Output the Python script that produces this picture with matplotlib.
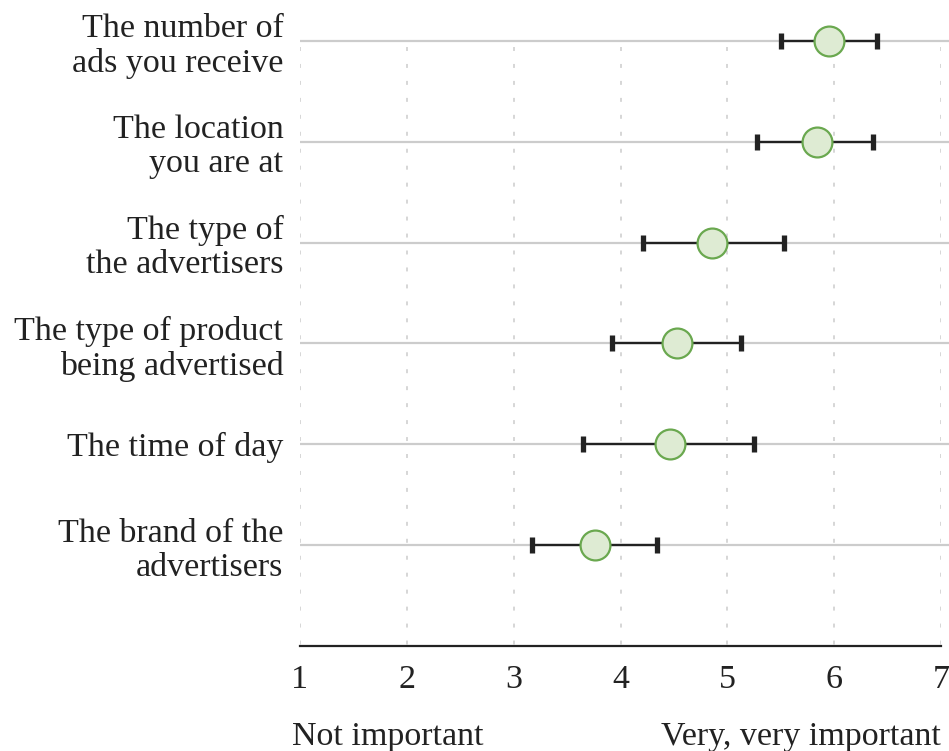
import matplotlib.pyplot as plt

# Datos (media e intervalo)
etiquetas = ['The number of\nads you receive',
             'The location\nyou are at',
             'The type of\nthe advertisers',
             'The type of product\nbeing advertised',
             'The time of day',
             'The brand of the\nadvertisers']
medias = [5.95, 5.84, 4.86, 4.53, 4.46, 3.76]
inferior = [5.50, 5.28, 4.21, 3.92, 3.65, 3.17]
superior = [6.40, 6.36, 5.53, 5.13, 5.25, 4.34]
ticks_x = [1, 2, 3, 4, 5, 6, 7]

plt.rcParams['font.family'] = ['Liberation Serif', 'DejaVu Serif']

fig = plt.figure(figsize=(9.49, 7.51), dpi=100)
ax = fig.add_axes([300 / 949, (751 - 646) / 751, 641 / 949, 646 / 751])

n = len(etiquetas)
pos = list(range(n))

# Lineas guia verticales punteadas
ax.vlines(ticks_x, 0.06, n, colors='#cccccc', linewidth=1.1,
          linestyles=(0, (2.6, 8.5)), zorder=1)
# Lineas horizontales grises por categoria
ax.hlines(pos, 1.0, 7.09, colors='#cccccc', linewidth=1.6, zorder=1, clip_on=False)

err_lo = [m - l for m, l in zip(medias, inferior)]
err_hi = [u - m for m, u in zip(medias, superior)]
ax.errorbar(medias, pos, xerr=[err_lo, err_hi], fmt='none', ecolor='#222222',
            elinewidth=1.7, capsize=5.5, capthick=3.8, zorder=2)
ax.plot(medias, pos, 'o', markersize=21.5, markerfacecolor='#deebd3',
        markeredgecolor='#6aa84f', markeredgewidth=1.6, zorder=3)

ax.set_xlim(1, 7)
ax.set_ylim(n, -0.406)
ax.set_xticks(ticks_x)
ax.set_xticklabels([str(t) for t in ticks_x], fontsize=24.5, color='#222222')
ax.tick_params(axis='x', length=0, pad=13)
ax.set_yticks(pos)
ax.set_yticklabels(etiquetas, fontsize=24.5, color='#222222', linespacing=1.15)
ax.tick_params(axis='y', length=0, pad=12)

for lado in ['top', 'right', 'left']:
    ax.spines[lado].set_visible(False)
ax.spines['bottom'].set_linewidth(1.6)
ax.spines['bottom'].set_color('#222222')

fig.text(292 / 949, 14 / 751, 'Not important', fontsize=24.5, color='#222222',
         ha='left', va='center')
fig.text(941 / 949, 14 / 751, 'Very, very important', fontsize=24.5, color='#222222',
         ha='right', va='center')

fig.savefig('out.png', dpi=100, facecolor='white')
